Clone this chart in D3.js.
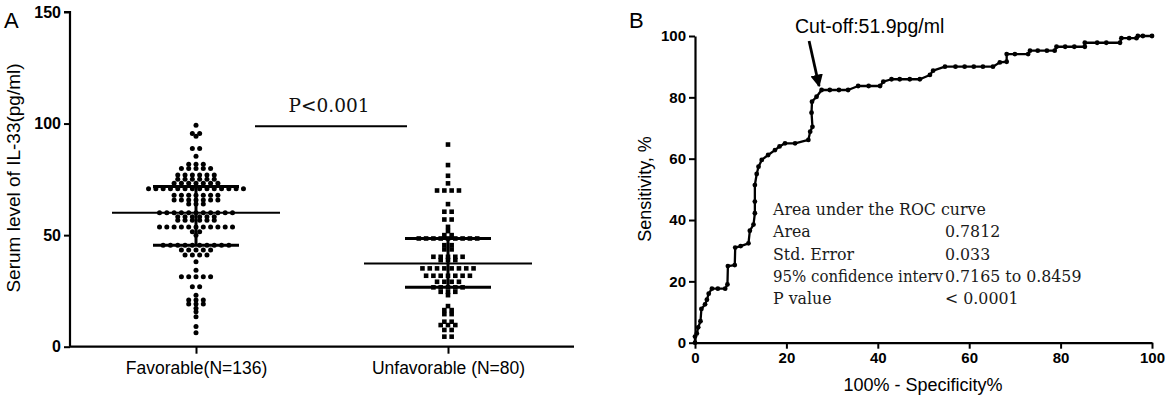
<!DOCTYPE html>
<html><head><meta charset="utf-8">
<script src="https://cdn.jsdelivr.net/npm/d3@7"></script>
<style>body{margin:0;background:#fff}svg{display:block}</style>
</head><body><svg id="c" width="1169" height="399"></svg>
<script>
// ---------- DATA ----------
const groups = ["Favorable(N=136)", "Unfavorable (N=80)"];
const yTicksA = [0, 50, 100, 150];
// values: [value, count]
const favorableValues = [[99.2,1],[95.5,2],[94.3,1],[88.8,2],[85.4,1],[81.8,3],[79.9,5],[76.9,6],[75.0,6],[73.2,7],
  [70.8,14],[67.9,7],[65.7,7],[63.9,3],[60.0,11],[58.2,6],[56.7,6],[53.7,11],[51.5,2],[50.0,1],
  [45.5,10],[43.3,5],[41.1,4],[38.1,1],[34.3,1],[31.3,5],[26.9,2],[23.1,1],[20.9,3],[19.1,3],[17.2,1],[15.7,1],[13.4,1],[9.0,1],[6.3,1]];
const unfavorableValues = [[90.6,1],[81.4,1],[76.6,1],[73.2,1],[70.0,4],[63.9,1],[60.5,2],[57.0,2],[53.7,1],[51.8,1],[50.0,2],
  [48.5,9],[45.5,2],[43.6,2],[40.3,5],[38.8,3],[35.1,8],[31.8,7],[29.1,4],[26.6,5],[24.6,3],[23.1,1],[18.2,1],[16.4,2],[14.6,2],[11.2,2],[9.7,3],[7.5,2],[4.5,2]];
const favorableStats = [45.5, 60.0, 71.8];   // lower, centre, upper
const unfavorableStats = [26.6, 37.3, 48.5];
const pText = "P<0.001";
const pLineValue = 98.8;

const xTicksB = [0, 20, 40, 60, 80, 100];
const yTicksB = [0, 20, 40, 60, 80, 100];
const rocFpr = [0,0,0.4,0.7,1.2,1.4,2.2,2.6,3.0,3.7,5.0,6.6,7.1,7.2,8.7,8.8,10.0,11.7,12.0,12.8,13.1,13.1,13.1,13.5,13.9,14.6,16.0,17.5,18.5,19.7,21.9,24.8,25.2,25.7,25.5,25.6,26.6,27.7,29.5,31.5,33.5,35.7,38.0,40.5,41.2,43.0,44.8,47.0,49.2,51.4,52.1,54.7,57.0,59.0,61.0,63.0,65.2,66.7,68.2,68.2,70.0,72.9,73.3,75.0,77.0,78.7,79.1,81.0,83.0,85.3,85.3,88.0,90.0,93.0,93.3,95.0,96.6,96.9,98.0,100];
const rocSens = [0,2,3,5,7,11,12.5,14,16,17.6,17.6,17.6,19,25,25.3,31,31.5,32.4,36.5,38.5,42.2,46,51.4,55,57.4,59.6,61.2,62.8,64,65,65,66.1,68.8,70.4,75,78.6,80.2,82.4,82.4,82.4,82.4,83.7,83.7,83.7,85.1,85.9,85.9,85.9,85.9,87.3,88.7,90,90,90,90,90,90,91.4,91.6,94.1,94.1,94.1,95.2,95.2,95.2,95.2,96.5,96.5,96.5,96.5,97.8,97.8,97.8,97.8,99.3,99.3,99.3,100,100,100];
const cutoffLabel = "Cut-off:51.9pg/ml";
const cutoffPoint = [27.7, 82.4];
const aucTitle = "Area under the ROC curve";
const aucLabels = ["Area", "Std. Error", "95% confidence interv", "P value"];
const aucValues = ["0.7812", "0.033", "0.7165 to 0.8459", "< 0.0001"];

// ---------- DRAW ----------
const svg = d3.select("#c");
const sans = "Arial, 'Liberation Sans', sans-serif";
const serif = "'DejaVu Serif', serif";

// Panel A
const yA = d3.scaleLinear().domain([0,150]).range([346.7, 12]);
const xA = d3.scalePoint().domain(groups).range([70, 574]).padding(0.5);
const gA = svg.append("g");

const axYA = gA.append("g").attr("transform","translate(70,0)")
  .call(d3.axisLeft(yA).tickValues(yTicksA).tickSize(6).tickPadding(3));
const axXA = gA.append("g").attr("transform","translate(0,346.7)")
  .call(d3.axisBottom(xA).tickSize(7).tickPadding(5));
[axYA, axXA].forEach(a=>{
  a.select(".domain").attr("stroke","#000").attr("stroke-width",2.2);
  a.selectAll(".tick line").attr("stroke","#000").attr("stroke-width",2);
});
axYA.selectAll("text").attr("font-family",sans).attr("font-size",16).attr("font-weight","bold").attr("fill","#000");
axXA.selectAll("text").attr("font-family",sans).attr("font-size",17.5).attr("fill","#000").attr("dy","0.9em");
axXA.select(".domain").attr("d","M70,0H574");
axYA.select(".domain").attr("d","M-6,"+yA(150)+"H0V"+yA(0));

gA.append("text").attr("transform","translate(20,178) rotate(-90)").attr("text-anchor","middle")
  .attr("font-family",sans).attr("font-size",19).text("Serum level of IL-33(pg/ml)");
gA.append("text").attr("x",4).attr("y",28).attr("font-family",sans).attr("font-size",22).text("A");

function expand(vals){
  const out=[];
  vals.forEach(([v,n])=>{ for(let i=0;i<n;i++) out.push({v, off:(i-(n-1)/2)}); });
  return out;
}
const spacing = 7.3;
const cxF = xA(groups[0]), cxU = xA(groups[1]);
gA.append("g").selectAll("circle").data(expand(favorableValues)).join("circle")
  .attr("cx",d=>cxF+d.off*spacing).attr("cy",d=>yA(d.v)).attr("r",2.5).attr("fill","#000");
gA.append("g").selectAll("rect").data(expand(unfavorableValues)).join("rect")
  .attr("x",d=>cxU+d.off*spacing-2.3).attr("y",d=>yA(d.v)-2.3).attr("width",4.6).attr("height",4.6).attr("fill","#000");

function statBars(cx, s){
  const g = gA.append("g").attr("stroke","#000");
  g.append("line").attr("x1",cx).attr("x2",cx).attr("y1",yA(s[0])).attr("y2",yA(s[2])).attr("stroke-width",3);
  g.append("line").attr("x1",cx-43).attr("x2",cx+43).attr("y1",yA(s[0])).attr("y2",yA(s[0])).attr("stroke-width",3);
  g.append("line").attr("x1",cx-43).attr("x2",cx+43).attr("y1",yA(s[2])).attr("y2",yA(s[2])).attr("stroke-width",3);
  g.append("line").attr("x1",cx-84).attr("x2",cx+84).attr("y1",yA(s[1])).attr("y2",yA(s[1])).attr("stroke-width",2);
}
statBars(cxF, favorableStats);
statBars(cxU, unfavorableStats);

gA.append("line").attr("x1",255).attr("x2",407).attr("y1",yA(pLineValue)).attr("y2",yA(pLineValue))
  .attr("stroke","#000").attr("stroke-width",2);
gA.append("text").attr("x",329).attr("y",yA(pLineValue)-14).attr("text-anchor","middle")
  .attr("font-family",serif).attr("font-size",18.5).attr("fill","#111").text(pText);

// Panel B
const xB = d3.scaleLinear().domain([0,100]).range([695,1152]);
const yB = d3.scaleLinear().domain([0,100]).range([342.7,36]);
const gB = svg.append("g");
const axYB = gB.append("g").attr("transform","translate(695,0)")
  .call(d3.axisLeft(yB).tickValues(yTicksB).tickSize(6).tickPadding(3).tickSizeOuter(0));
const axXB = gB.append("g").attr("transform","translate(0,342.7)")
  .call(d3.axisBottom(xB).tickValues(xTicksB).tickSize(6).tickPadding(4).tickSizeOuter(0));
[axYB, axXB].forEach(a=>{
  a.select(".domain").attr("stroke","#000").attr("stroke-width",2.2);
  a.selectAll(".tick line").attr("stroke","#000").attr("stroke-width",2);
  a.selectAll("text").attr("font-family",sans).attr("font-size",15).attr("font-weight","bold").attr("fill","#000");
});
gB.append("text").attr("transform","translate(651,189) rotate(-90)").attr("text-anchor","middle")
  .attr("font-family",sans).attr("font-size",18).text("Sensitivity, %");
gB.append("text").attr("x",923).attr("y",391).attr("text-anchor","middle")
  .attr("font-family",sans).attr("font-size",18).text("100% - Specificity%");
gB.append("text").attr("x",629).attr("y",28).attr("font-family",sans).attr("font-size",22).text("B");

const roc = rocFpr.map((f,i)=>[f, rocSens[i]]);
gB.append("path").datum(roc).attr("fill","none").attr("stroke","#000").attr("stroke-width",2.3)
  .attr("stroke-linejoin","round")
  .attr("d", d3.line().x(d=>xB(d[0])).y(d=>yB(d[1])));
gB.append("g").selectAll("circle").data(roc).join("circle")
  .attr("cx",d=>xB(d[0])).attr("cy",d=>yB(d[1])).attr("r",2.4).attr("fill","#000");

// cut-off annotation
const defs = svg.append("defs");
defs.append("marker").attr("id","ah").attr("viewBox","0 0 10 10").attr("refX",9).attr("refY",5)
  .attr("markerWidth",4.5).attr("markerHeight",4.5).attr("orient","auto")
  .append("path").attr("d","M0,0L10,5L0,10z").attr("fill","#000");
const tip = [xB(cutoffPoint[0])-2.5, yB(cutoffPoint[1])-4];
gB.append("line").attr("x1",tip[0]-10).attr("y1",41).attr("x2",tip[0]).attr("y2",tip[1])
  .attr("stroke","#000").attr("stroke-width",2.8).attr("marker-end","url(#ah)");
gB.append("text").attr("x",795).attr("y",33).attr("font-family",sans).attr("font-size",19.5).text(cutoffLabel);

// AUC table
const tbl = gB.append("g").attr("font-family",serif).attr("font-size",15.8).attr("fill","#1a1a1a");
tbl.append("text").attr("x",773).attr("y",215).text(aucTitle);
tbl.append("g").selectAll("text").data(aucLabels).join("text")
  .attr("x",773).attr("y",(d,i)=>237.3+i*22.3).text(d=>d)
  .each(function(){
    const w = this.getComputedTextLength();
    if (w > 170) d3.select(this).attr("textLength",170).attr("lengthAdjust","spacingAndGlyphs");
  });
tbl.append("g").selectAll("text").data(aucValues).join("text")
  .attr("x",945).attr("y",(d,i)=>237.3+i*22.3).text(d=>d);
</script></body></html>
